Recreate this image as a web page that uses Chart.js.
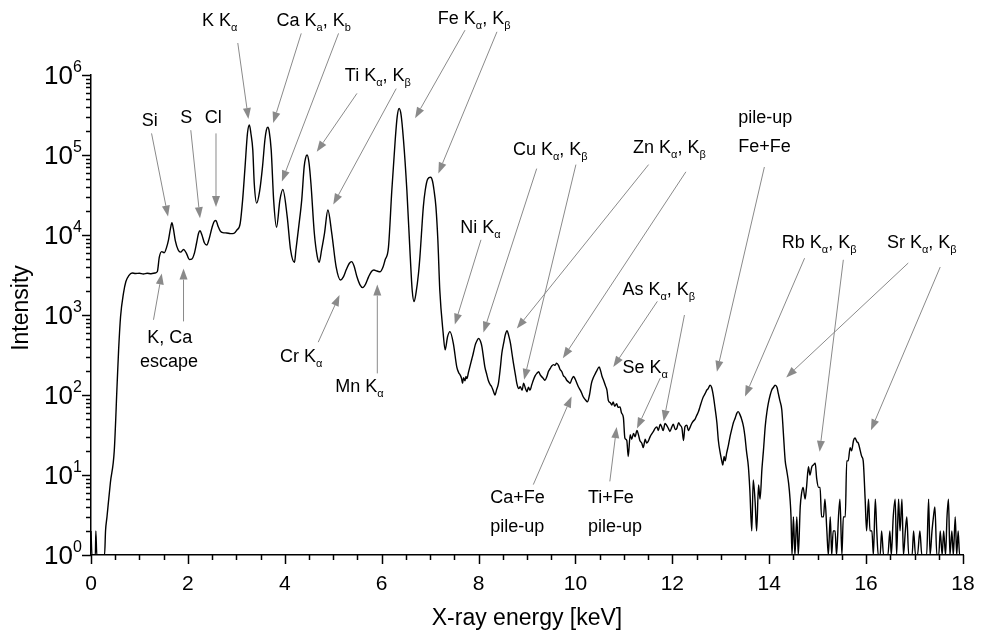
<!DOCTYPE html>
<html>
<head>
<meta charset="utf-8">
<script src="https://cdn.jsdelivr.net/npm/chart.js@4.4.1/dist/chart.umd.min.js"></script>
<style>
  html, body { margin: 0; padding: 0; background: #fff; }
  #wrap { width: 981px; height: 634px; }
</style>
</head>
<body>
<div id="wrap"><canvas id="chart" width="981" height="634"></canvas></div>
<script>
// spectrum: energy in keV, intensity in counts
const energyKeV = [
  0.00, 0.02, 0.09, 0.10, 0.12, 0.28, 0.30, 0.33, 0.40, 0.48, 0.54, 0.57, 0.61, 0.67, 0.72, 0.78, 0.85, 0.92,
  1.00, 1.08, 1.16, 1.24, 1.32, 1.37, 1.41, 1.46, 1.51, 1.56, 1.60, 1.64, 1.67, 1.70, 1.74, 1.80, 1.85, 1.91, 1.97,
  2.03, 2.08, 2.13, 2.18, 2.22, 2.25, 2.29, 2.34, 2.39, 2.44, 2.50, 2.55, 2.58, 2.62, 2.67, 2.72, 2.80, 2.88, 2.95,
  3.01, 3.08, 3.13, 3.18, 3.23, 3.27, 3.30, 3.34, 3.37, 3.42, 3.48, 3.54, 3.59, 3.62, 3.65, 3.68, 3.72, 3.77, 3.83, 3.90, 3.96,
  4.05, 4.12, 4.20, 4.23, 4.29, 4.35, 4.40, 4.43, 4.46, 4.50, 4.54, 4.61, 4.67, 4.71, 4.76, 4.82, 4.89, 4.97,
  5.06, 5.15, 5.21, 5.27, 5.33, 5.38, 5.43, 5.49, 5.55, 5.61, 5.67, 5.73, 5.79, 5.84, 5.90, 5.97,
  6.03, 6.07, 6.14, 6.21, 6.28, 6.32, 6.36, 6.40, 6.45, 6.52, 6.59, 6.63, 6.67, 6.71, 6.76, 6.79, 6.86, 6.90, 6.95,
  7.01, 7.05, 7.08, 7.12, 7.16, 7.20, 7.27, 7.31, 7.36, 7.41, 7.48, 7.55, 7.59, 7.62, 7.65, 7.67, 7.69, 7.72, 7.74, 7.76, 7.79, 7.82, 7.86, 7.89, 7.93, 7.97,
  8.00, 8.04, 8.07, 8.10, 8.13, 8.17, 8.20, 8.24, 8.27, 8.31, 8.34, 8.37, 8.41, 8.45, 8.48, 8.52, 8.55, 8.59, 8.62, 8.66, 8.69, 8.72, 8.76, 8.79, 8.83, 8.86, 8.90, 8.93, 8.97,
  9.00, 9.03, 9.06, 9.10, 9.13, 9.17, 9.20, 9.24, 9.27, 9.30, 9.34, 9.37, 9.41, 9.44, 9.48, 9.51, 9.55, 9.58, 9.61, 9.65, 9.68, 9.72, 9.75, 9.79, 9.82, 9.86, 9.89, 9.92, 9.96, 9.99,
  10.03, 10.06, 10.10, 10.13, 10.16, 10.20, 10.25, 10.29, 10.33, 10.37, 10.41, 10.44, 10.49, 10.52, 10.55, 10.58, 10.62, 10.65, 10.68, 10.72, 10.75, 10.78, 10.81, 10.85, 10.88, 10.92, 10.95, 10.99,
  11.02, 11.06, 11.09, 11.13, 11.16, 11.20, 11.23, 11.27, 11.30, 11.33, 11.37, 11.40, 11.44, 11.47, 11.51, 11.54, 11.58, 11.61, 11.64, 11.68, 11.71, 11.75, 11.78, 11.81, 11.85, 11.88, 11.92, 11.95, 11.99,
  12.02, 12.06, 12.09, 12.13, 12.16, 12.20, 12.23, 12.26, 12.30, 12.33, 12.37, 12.40, 12.43, 12.47, 12.50, 12.54, 12.57, 12.61, 12.64, 12.68, 12.71, 12.74, 12.78, 12.81, 12.85, 12.88, 12.92, 12.95, 12.99,
  13.02, 13.04, 13.07, 13.09, 13.12, 13.16, 13.19, 13.23, 13.26, 13.30, 13.33, 13.36, 13.40, 13.43, 13.47, 13.50, 13.53, 13.57, 13.60, 13.64, 13.67, 13.71, 13.74, 13.78, 13.81, 13.85, 13.88, 13.92, 13.95, 13.98,
  14.02, 14.05, 14.09, 14.12, 14.16, 14.19, 14.22, 14.26, 14.29, 14.33, 14.36, 14.40, 14.43, 14.45, 14.47, 14.50, 14.53, 14.57, 14.60, 14.64, 14.67, 14.70, 14.74, 14.77, 14.81, 14.84, 14.88, 14.91, 14.95, 14.98,
  15.02, 15.05, 15.08, 15.12, 15.15, 15.19, 15.22, 15.26, 15.29, 15.32, 15.36, 15.39, 15.43, 15.46, 15.50, 15.53, 15.57, 15.60, 15.63, 15.67, 15.70, 15.74, 15.77, 15.81, 15.84, 15.88, 15.91, 15.94, 15.98,
  16.01, 16.05, 16.08, 16.12, 16.15, 16.19, 16.22, 16.25, 16.29, 16.32, 16.36, 16.40, 16.45, 16.49, 16.52, 16.56, 16.60, 16.63, 16.67, 16.70, 16.74, 16.77, 16.81, 16.84, 16.88, 16.92, 16.95, 16.98,
  17.02, 17.06, 17.11, 17.15, 17.20, 17.25, 17.29, 17.32, 17.36, 17.39, 17.42, 17.46, 17.50, 17.53, 17.57, 17.60, 17.64, 17.67, 17.70, 17.73, 17.77, 17.80, 17.84, 17.87, 17.90, 17.93, 18.00
]

const intensity = [
  2, 1, 1, 2, 1, 1, 2, 3, 8, 20, 140, 365, 950, 1860, 2620, 3100, 3350, 3300,
  3320, 3250, 3330, 3280, 3350, 3500, 5300, 6200, 6000, 7000, 8700, 12000, 14200, 12000, 8500, 6500, 6100, 6600, 5900,
  4950, 5000, 5800, 8000, 10500, 11300, 10000, 8000, 7500, 9000, 12500, 15000, 15200, 13000, 11200, 10700, 10600, 10400, 10500,
  11500, 14000, 27500, 71000, 187000, 237000, 187000, 115000, 44000, 25000, 35000, 71000, 155000, 205000, 222000, 195000, 115000, 27500, 12500, 27500, 37000,
  17000, 6500, 4550, 6500, 13000, 27500, 71000, 92000, 100000, 80000, 44000, 10500, 5400, 4550, 6500, 10500, 20500, 10500,
  4000, 2740, 3000, 3700, 4400, 4650, 4100, 3000, 2400, 2200, 2450, 3000, 3500, 3650, 3550, 3470,
  4000, 4870, 7000, 36500, 155000, 300000, 382000, 320000, 155000, 36500, 5370, 2040, 1470, 1900, 3300, 5370, 22500, 36500, 50000,
  52600, 47000, 36500, 22500, 8660, 2040, 590, 366, 535, 620, 440, 225, 190, 178, 160, 140, 165, 150, 170, 160, 190, 225, 280, 330, 420, 480,
  510, 470, 400, 300, 225, 180, 153, 135, 127, 110, 100, 115, 140, 220, 330, 450, 560, 636, 560, 440, 330, 250, 180, 140, 120, 127, 115, 140, 120,
  110, 125, 115, 135, 153, 175, 185, 195, 180, 170, 160, 153, 170, 195, 215, 230, 240, 235, 250, 235, 210, 195, 175, 165, 153, 145, 140, 155, 170, 160,
  140, 127, 115, 105, 95, 88, 82, 100, 140, 165, 185, 200, 225, 200, 170, 153, 130, 115, 85, 80, 75, 82, 72, 78, 70, 71, 60, 52,
  29, 27, 17, 32, 28, 33, 30, 36, 32, 27, 25, 22, 28, 25, 27, 30, 33, 35, 38, 40, 36, 43, 40, 36, 44, 42, 38, 35, 40,
  43, 37, 38, 45, 42, 38, 27, 40, 42, 36, 40, 44, 47, 50, 55, 62, 71, 85, 95, 105, 115, 120, 133, 125, 95, 70, 45, 27, 18.6,
  15, 13.3, 17, 15, 18.6, 24, 30, 38, 45, 52, 59, 62, 56, 50, 40, 30, 20, 12.7, 6.5, 2, 8.7, 4.5, 2, 7.5, 5, 12, 20, 42, 60, 78,
  100, 115, 125, 133, 125, 103, 85, 65, 35, 15, 11.5, 7.9, 5, 3, 1, 3, 1, 3, 1, 4, 6, 7, 5, 7, 12.7, 10, 12.7, 13.3, 14, 9,
  7, 7, 3, 3, 5, 2, 1, 3, 1, 2, 2, 1, 3, 5, 1, 3, 3, 15, 15, 22, 20, 27, 29, 26, 25, 20, 17, 15, 5,
  2, 5, 2, 2, 1, 5, 2, 1, 1, 2, 1, 1, 1, 2, 1, 3, 5, 1, 5, 2, 5, 1, 2, 3, 1, 1, 1, 2,
  1, 1, 2, 1, 1, 1, 5, 1, 2, 3, 4, 1, 1, 2, 1, 2, 1, 3, 5, 1, 2, 1, 3, 1, 2, 1, 1
]

const xTickValues = [0, 2, 4, 6, 8, 10, 12, 14, 16, 18]
const yTickExponents = [0, 1, 2, 3, 4, 5, 6]

// labels: [text, left edge keV, baseline as log10(intensity)]; _{..} marks a subscript
const peakLabels = [
  ['Si', 1.05, 5.36],
  ['S', 1.84, 5.40],
  ['Cl', 2.35, 5.40],
  ['K K_{α}', 2.29, 6.61],
  ['Ca K_{a}, K_{b}', 3.83, 6.61],
  ['Ti K_{α}, K_{β}', 5.24, 5.92],
  ['Fe K_{α}, K_{β}', 7.16, 6.64],
  ['Cu K_{α}, K_{β}', 8.71, 5.00],
  ['Zn K_{α}, K_{β}', 11.19, 5.02],
  ['Ni K_{α}', 7.62, 4.02],
  ['pile-up', 13.36, 5.40],
  ['Fe+Fe', 13.36, 5.04],
  ['Rb K_{α}, K_{β}', 14.26, 3.84],
  ['Sr K_{α}, K_{β}', 16.43, 3.84],
  ['As K_{α}, K_{β}', 10.97, 3.25],
  ['Se K_{α}', 10.97, 2.27],
  ['Ca+Fe', 8.24, 0.65],
  ['pile-up', 8.24, 0.29],
  ['Ti+Fe', 10.26, 0.65],
  ['pile-up', 10.26, 0.29],
  ['K, Ca', 1.16, 2.65],
  ['escape', 1.01, 2.35],
  ['Cr K_{α}', 3.90, 2.41],
  ['Mn K_{α}', 5.04, 2.04]
]

// arrows: [from keV, from log10 I, tip keV, tip log10 I]
const peakArrows = [
  [1.25, 5.27, 1.59, 4.23],
  [2.06, 5.31, 2.25, 4.21],
  [2.58, 5.27, 2.58, 4.35],
  [3.03, 6.40, 3.25, 5.45],
  [4.34, 6.52, 3.76, 5.40],
  [5.11, 6.52, 3.94, 4.67],
  [5.49, 5.77, 4.66, 5.04],
  [6.30, 5.83, 5.00, 4.38],
  [7.72, 6.56, 6.69, 5.46],
  [8.38, 6.54, 7.17, 4.77],
  [8.05, 3.94, 7.51, 2.88],
  [9.20, 4.83, 8.10, 2.78],
  [10.01, 4.88, 8.94, 2.19],
  [11.51, 4.88, 8.79, 2.83],
  [12.28, 4.79, 9.74, 2.46],
  [13.90, 4.85, 12.92, 2.29],
  [11.69, 3.17, 10.78, 2.35],
  [12.25, 3.00, 11.82, 1.67],
  [11.75, 2.21, 11.27, 1.58],
  [14.73, 3.71, 13.50, 1.98],
  [15.53, 3.69, 15.04, 1.29],
  [16.87, 3.65, 14.35, 2.22],
  [17.53, 3.60, 16.10, 1.56],
  [1.29, 2.94, 1.46, 3.52],
  [1.91, 2.92, 1.91, 3.58],
  [4.69, 2.66, 5.13, 3.25],
  [5.91, 2.27, 5.91, 3.38],
  [9.13, 0.88, 9.92, 1.98],
  [10.71, 0.92, 10.85, 1.60]
]

const FONT_FAMILY = '"Liberation Sans", Arial, sans-serif'
const LABEL_FONT = `18px ${FONT_FAMILY}`
const SUB_FONT = `11px ${FONT_FAMILY}`
const ARROW_COLOR = '#8a8a8a'

function toPixel(chart, keV, decade) {
  return [chart.scales.x.getPixelForValue(keV), chart.scales.y.getPixelForValue(Math.pow(10, decade))]
}

function drawLabel(ctx, text, x, y) {
  const parts = text.split(/_\{([^}]*)\}/)
  let cursor = x
  parts.forEach((part, index) => {
    if (!part) return
    const isSub = index % 2 === 1
    ctx.font = isSub ? SUB_FONT : LABEL_FONT
    ctx.fillText(part, cursor, isSub ? y + 5 : y)
    cursor += ctx.measureText(part).width
  })
}

function drawArrow(ctx, x0, y0, x1, y1) {
  const angle = Math.atan2(y1 - y0, x1 - x0)
  const headLength = 11
  const headWidth = 4
  const cos = Math.cos(angle)
  const sin = Math.sin(angle)
  const baseX = x1 - headLength * cos
  const baseY = y1 - headLength * sin
  ctx.beginPath()
  ctx.moveTo(x0, y0)
  ctx.lineTo(baseX, baseY)
  ctx.stroke()
  ctx.beginPath()
  ctx.moveTo(x1, y1)
  ctx.lineTo(baseX + headWidth * sin, baseY - headWidth * cos)
  ctx.lineTo(baseX - headWidth * sin, baseY + headWidth * cos)
  ctx.closePath()
  ctx.fill()
}

const axisDecorations = {
  id: 'axisDecorations',
  afterDraw(chart) {
    const { ctx, chartArea, scales } = chart
    const xScale = scales.x
    const yScale = scales.y
    ctx.save()
    ctx.strokeStyle = '#000'
    ctx.fillStyle = '#000'
    ctx.lineWidth = 1.5

    // x ticks: major every 2 keV, minor every 0.5 keV
    for (let v = 0; v <= 18 + 1e-9; v += 0.5) {
      const px = Math.round(xScale.getPixelForValue(v)) + 0.5
      const len = xTickValues.includes(v) ? 9 : 5
      ctx.beginPath()
      ctx.moveTo(px, chartArea.bottom)
      ctx.lineTo(px, chartArea.bottom + len)
      ctx.stroke()
    }
    // y ticks: decades plus 2..9 minors
    yTickExponents.forEach((exp) => {
      for (let k = 1; k <= 9; k++) {
        if (exp === 6 && k > 1) break
        const py = Math.round(yScale.getPixelForValue(k * Math.pow(10, exp))) + 0.5
        const len = k === 1 ? 9 : 5
        ctx.beginPath()
        ctx.moveTo(chartArea.left, py)
        ctx.lineTo(chartArea.left - len, py)
        ctx.stroke()
      }
    })

    // tick labels
    ctx.textAlign = 'center'
    ctx.textBaseline = 'alphabetic'
    ctx.font = `21px ${FONT_FAMILY}`
    xTickValues.forEach((v) => {
      ctx.fillText(String(v), xScale.getPixelForValue(v), chartArea.bottom + 35)
    })
    yTickExponents.forEach((exp) => {
      const py = yScale.getPixelForValue(Math.pow(10, exp))
      ctx.textAlign = 'right'
      ctx.font = `26px ${FONT_FAMILY}`
      ctx.fillText('10', chartArea.left - 18, py + 9)
      ctx.textAlign = 'left'
      ctx.font = `16px ${FONT_FAMILY}`
      ctx.fillText(String(exp), chartArea.left - 18, py - 3)
    })

    // axis titles
    ctx.textAlign = 'center'
    ctx.font = `23px ${FONT_FAMILY}`
    ctx.fillText('X-ray energy [keV]', (chartArea.left + chartArea.right) / 2, chartArea.bottom + 70)
    ctx.save()
    ctx.translate(28, (chartArea.top + chartArea.bottom) / 2 - 7)
    ctx.rotate(-Math.PI / 2)
    ctx.fillText('Intensity', 0, 0)
    ctx.restore()

    // peak annotations
    ctx.strokeStyle = ARROW_COLOR
    ctx.fillStyle = ARROW_COLOR
    ctx.lineWidth = 1
    peakArrows.forEach(([x0, d0, x1, d1]) => {
      const [ax, ay] = toPixel(chart, x0, d0)
      const [bx, by] = toPixel(chart, x1, d1)
      drawArrow(ctx, ax, ay, bx, by)
    })
    ctx.fillStyle = '#000'
    ctx.textAlign = 'left'
    peakLabels.forEach(([text, keV, decade]) => {
      const [px, py] = toPixel(chart, keV, decade)
      drawLabel(ctx, text, px, py)
    })
    ctx.restore()
  }
}

new Chart(document.getElementById('chart'), {
  type: 'line',
  data: {
    datasets: [{
      data: energyKeV.map((x, i) => ({ x, y: intensity[i] })),
      borderColor: '#000',
      borderWidth: 1.4,
      pointRadius: 0,
      fill: false,
      cubicInterpolationMode: 'monotone'
    }]
  },
  plugins: [axisDecorations],
  options: {
    responsive: false,
    devicePixelRatio: 1,
    animation: false,
    layout: { padding: { left: 91, right: 18, top: 75, bottom: 79 } },
    plugins: { legend: { display: false }, tooltip: { enabled: false } },
    scales: {
      x: {
        type: 'linear',
        min: 0,
        max: 18,
        grid: { display: false, drawTicks: false },
        ticks: { display: false },
        border: { display: true, color: '#000', width: 1.5 }
      },
      y: {
        type: 'logarithmic',
        min: 1,
        max: 1e6,
        grid: { display: false, drawTicks: false },
        ticks: { display: false },
        border: { display: true, color: '#000', width: 1.5 }
      }
    }
  }
})
</script>
</body>
</html>
